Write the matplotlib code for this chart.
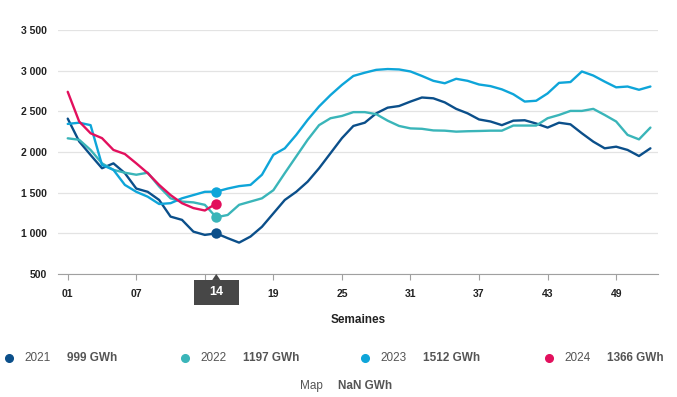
import matplotlib
matplotlib.use("Agg")
import matplotlib.pyplot as plt
import matplotlib.transforms as mtransforms
from matplotlib.patches import Rectangle, Polygon
from matplotlib.lines import Line2D

plt.rcParams['font.family'] = ['Liberation Sans', 'DejaVu Sans']

# weekly stock values (GWh)
weeks = list(range(1, 53))
y2021 = [2410, 2130, 1963, 1800, 1860, 1740, 1550, 1510, 1410, 1205,
         1165, 1020, 980, 999, 940, 885, 960, 1080, 1245, 1410,
         1510, 1635, 1800, 1985, 2170, 2320, 2360, 2475, 2545, 2565,
         2620, 2670, 2660, 2610, 2530, 2475, 2400, 2375, 2330, 2385,
         2390, 2350, 2300, 2360, 2340, 2230, 2127, 2045, 2065, 2025,
         1950, 2045]
y2022 = [2168, 2150, 2025, 1860, 1780, 1745, 1720, 1745, 1575, 1430,
         1390, 1380, 1350, 1197, 1225, 1350, 1390, 1430, 1530, 1740,
         1945, 2150, 2330, 2415, 2443, 2490, 2490, 2465, 2385, 2320,
         2290, 2285, 2265, 2262, 2250, 2255, 2258, 2262, 2262, 2325,
         2325, 2325, 2415, 2455, 2505, 2505, 2530, 2455, 2375, 2210,
         2155, 2300]
y2023 = [2345, 2360, 2330, 1840, 1780, 1595, 1510, 1450, 1360, 1370,
         1430, 1470, 1510, 1512, 1550, 1580, 1595, 1720, 1965, 2045,
         2210, 2395, 2560, 2700, 2825, 2935, 2975, 3010, 3020, 3015,
         2990, 2935, 2875, 2845, 2900, 2875, 2830, 2810, 2770, 2710,
         2620, 2630, 2720, 2850, 2860, 2990, 2940, 2865, 2795, 2805,
         2765, 2805]
y2024 = [2740, 2375, 2230, 2170, 2025, 1975, 1860, 1740, 1595, 1470,
         1370, 1310, 1280, 1366]

years = ['2021', '2022', '2023', '2024']
series = [y2021, y2022, y2023, y2024]
colors = ['#0b4f8a', '#3ab5b9', '#0ea5d9', '#e2105d']
sel_week = 14
sel_labels = ['999 GWh', '1197 GWh', '1512 GWh', '1366 GWh']

yticks = [500, 1000, 1500, 2000, 2500, 3000, 3500]
ytick_labels = ['500', '1 000', '1 500', '2 000', '2 500', '3 000', '3 500']
xticks = [1, 7, 13, 19, 25, 31, 37, 43, 49]
xtick_labels = ['01', '07', '', '19', '25', '31', '37', '43', '49']

fig = plt.figure(figsize=(6.77, 3.97), dpi=100)
ax = fig.add_axes([0.0857, 0.310, 0.886, 0.6144])

for vals, c in zip(series, colors):
    ax.plot(weeks[:len(vals)], vals, color=c, lw=1.7, solid_capstyle='round',
            solid_joinstyle='round', zorder=3)
    ax.plot(sel_week, vals[sel_week - 1], 'o', color=c, ms=7.5, mew=0, zorder=4)

ax.set_xlim(0.15, 52.65)
ax.set_ylim(500, 3500)
ax.set_yticks(yticks)
ax.set_yticklabels(ytick_labels)
ax.set_xticks(xticks)
ax.set_xticklabels(xtick_labels)
ax.grid(axis='y', color='#e3e3e3', lw=0.9)
ax.set_axisbelow(True)
for s in ['top', 'right', 'left']:
    ax.spines[s].set_visible(False)
ax.spines['bottom'].set_color('#a0a0a0')
ax.tick_params(axis='y', length=0, pad=8, labelsize=7.5, labelcolor='#222222')
ax.tick_params(axis='x', length=4, color='#a0a0a0', pad=7, labelsize=7.5, labelcolor='#222222')
for lab in ax.get_xticklabels() + ax.get_yticklabels():
    lab.set_fontweight('bold')

ax.set_xlabel('Semaines', fontsize=8.5, fontweight='bold', color='#222222', labelpad=11)

# highlighted week box
trans = mtransforms.blended_transform_factory(ax.transData, ax.transAxes)
ax.add_patch(Rectangle((sel_week - 1.97, -0.127), 3.94, 0.1025, transform=trans,
                       fc='#474747', ec='none', clip_on=False, zorder=5))
ax.add_patch(Polygon([(sel_week - 0.35, -0.0246), (sel_week + 0.35, -0.0246), (sel_week, 0.0)],
                     closed=True, transform=trans, fc='#474747', ec='none', clip_on=False, zorder=5))
ax.text(sel_week, -0.076, '14', transform=trans, ha='center', va='center',
        color='white', fontsize=9, fontweight='bold', zorder=6)

# legend
leg_x = [9, 185, 365, 549]
for px, yr, val, c in zip(leg_x, years, sel_labels, colors):
    fx = px / 677
    fig.add_artist(Line2D([fx], [1 - 358 / 397], marker='o', color=c, ms=5.5, lw=0,
                          transform=fig.transFigure))
    fig.text(fx + 15 / 677, 1 - 358 / 397, yr, fontsize=8.5, color='#555555', va='center')
    fig.text(fx + 58 / 677, 1 - 358 / 397, val, fontsize=8.5, color='#555555',
             fontweight='bold', va='center')
fig.text(300 / 677, 1 - 386 / 397, 'Map', fontsize=8.5, color='#555555', va='center')
fig.text(338 / 677, 1 - 386 / 397, 'NaN GWh', fontsize=8.5, color='#555555',
         fontweight='bold', va='center')

fig.savefig('out.png', dpi=100)
